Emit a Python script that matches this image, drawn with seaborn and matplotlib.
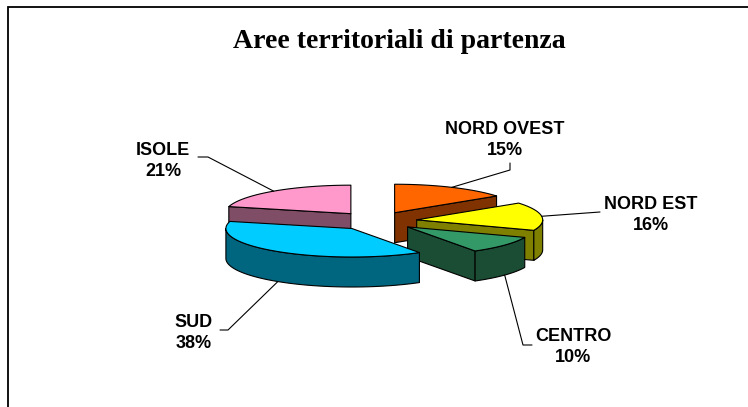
import numpy as np
import seaborn as sns
import matplotlib
matplotlib.use("Agg")
import matplotlib.pyplot as plt
from matplotlib.patches import Polygon
from matplotlib.colors import to_rgb


# ----------------- Data -----------------
regions = ["NORD OVEST", "NORD EST", "CENTRO", "SUD", "ISOLE"]
shares = [15, 16, 10, 38, 21]
top_colors = ["#FF6600", "#FFFF00", "#339966", "#00CCFF", "#FF99CC"]
title = "Aree territoriali di partenza"

# ----------------- Layout (pixels) -----------------
W, H = 748, 407
CX, CY = 376, 221          # pie centre
RX, RY = 126, 28.5         # ellipse radii of the top face
DEPTH = 30                 # thickness of the pie
EXPLODE = 41               # explode distance
label_xy = [(505, 140), (651, 215), (573, 347), (194, 333), (163, 161)]
leader_tail = [[(510, 170), (510, 163)],
               [(600, 212)],
               [(523, 345), (532, 345)],
               [(228, 330), (220, 330)],
               [(208, 157), (198, 157)]]

sns.set_theme(style="white")
plt.rcParams["font.family"] = ["Liberation Sans", "DejaVu Sans"]
plt.rcParams["text.color"] = "black"

fig = plt.figure(figsize=(W / 100, H / 100), dpi=100)
ax = fig.add_axes([0, 0, 1, 1])
ax.set_xlim(0, W)
ax.set_ylim(H, 0)
ax.axis("off")

# frame of the chart area (only top and left edges are in the picture)
ax.plot([8, 8, W + 5], [H + 5, 7, 7], color="black", lw=1.3,
        solid_joinstyle="miter", clip_on=False)

ax.text(399, 42, title, ha="center", va="center", fontsize=20,
        fontweight="bold", color="black",
        family=["Liberation Serif", "DejaVu Serif"])


def rim(cx, cy, theta):
    t = np.radians(theta)
    return cx + RX * np.sin(t), cy - RY * np.cos(t)


def arc(cx, cy, a, b, dy=0.0, n=60):
    th = np.radians(np.linspace(a, b, n))
    return np.column_stack([cx + RX * np.sin(th), cy - RY * np.cos(th) + dy])


def shade(color):
    r, g, b = to_rgb(color)
    return (r * 0.5, g * 0.5, b * 0.5)


total = sum(shares)
bounds = np.concatenate([[0], np.cumsum(shares)]) / total * 360.0
slices = []
for i, name in enumerate(regions):
    a, b = bounds[i], bounds[i + 1]
    mid = np.radians((a + b) / 2)
    cx = CX + EXPLODE * np.sin(mid)
    cy = CY - EXPLODE * (RY / RX) * np.cos(mid)
    slices.append((i, a, b, mid, cx, cy))

edge = dict(edgecolor="black", linewidth=0.8, joinstyle="round")

# back slices first
for i, a, b, mid, cx, cy in sorted(slices, key=lambda s: -np.cos(s[3])):
    side = shade(top_colors[i])
    # radial wall at start angle
    if np.sin(np.radians(a)) < -1e-6:
        x, y = rim(cx, cy, a)
        ax.add_patch(Polygon([(cx, cy), (x, y), (x, y + DEPTH), (cx, cy + DEPTH)],
                             facecolor=side, **edge))
    # radial wall at end angle
    if np.sin(np.radians(b)) > 1e-6:
        x, y = rim(cx, cy, b)
        ax.add_patch(Polygon([(cx, cy), (x, y), (x, y + DEPTH), (cx, cy + DEPTH)],
                             facecolor=side, **edge))
    # outer curved wall (front half only)
    lo, hi = max(a, 90), min(b, 270)
    if hi > lo:
        top = arc(cx, cy, lo, hi)
        bot = arc(cx, cy, lo, hi, dy=DEPTH)[::-1]
        ax.add_patch(Polygon(np.vstack([top, bot]), facecolor=side, **edge))
    # top face
    pts = np.vstack([[(cx, cy)], arc(cx, cy, a, b)])
    ax.add_patch(Polygon(pts, facecolor=top_colors[i], **edge))

# labels with leader lines
for i, a, b, mid, cx, cy in slices:
    x0, y0 = rim(cx, cy, np.degrees(mid))
    if np.cos(mid) < 0:
        y0 += DEPTH
    xs = [x0] + [p[0] for p in leader_tail[i]]
    ys = [y0] + [p[1] for p in leader_tail[i]]
    ax.plot(xs, ys, color="black", lw=0.8)
    lx, ly = label_xy[i]
    ax.text(lx, ly, f"{regions[i]}\n{shares[i]}%", ha="center", va="center",
            fontsize=13, fontweight="bold", color="black", linespacing=1.25)

fig.savefig("out.png", dpi=100)
